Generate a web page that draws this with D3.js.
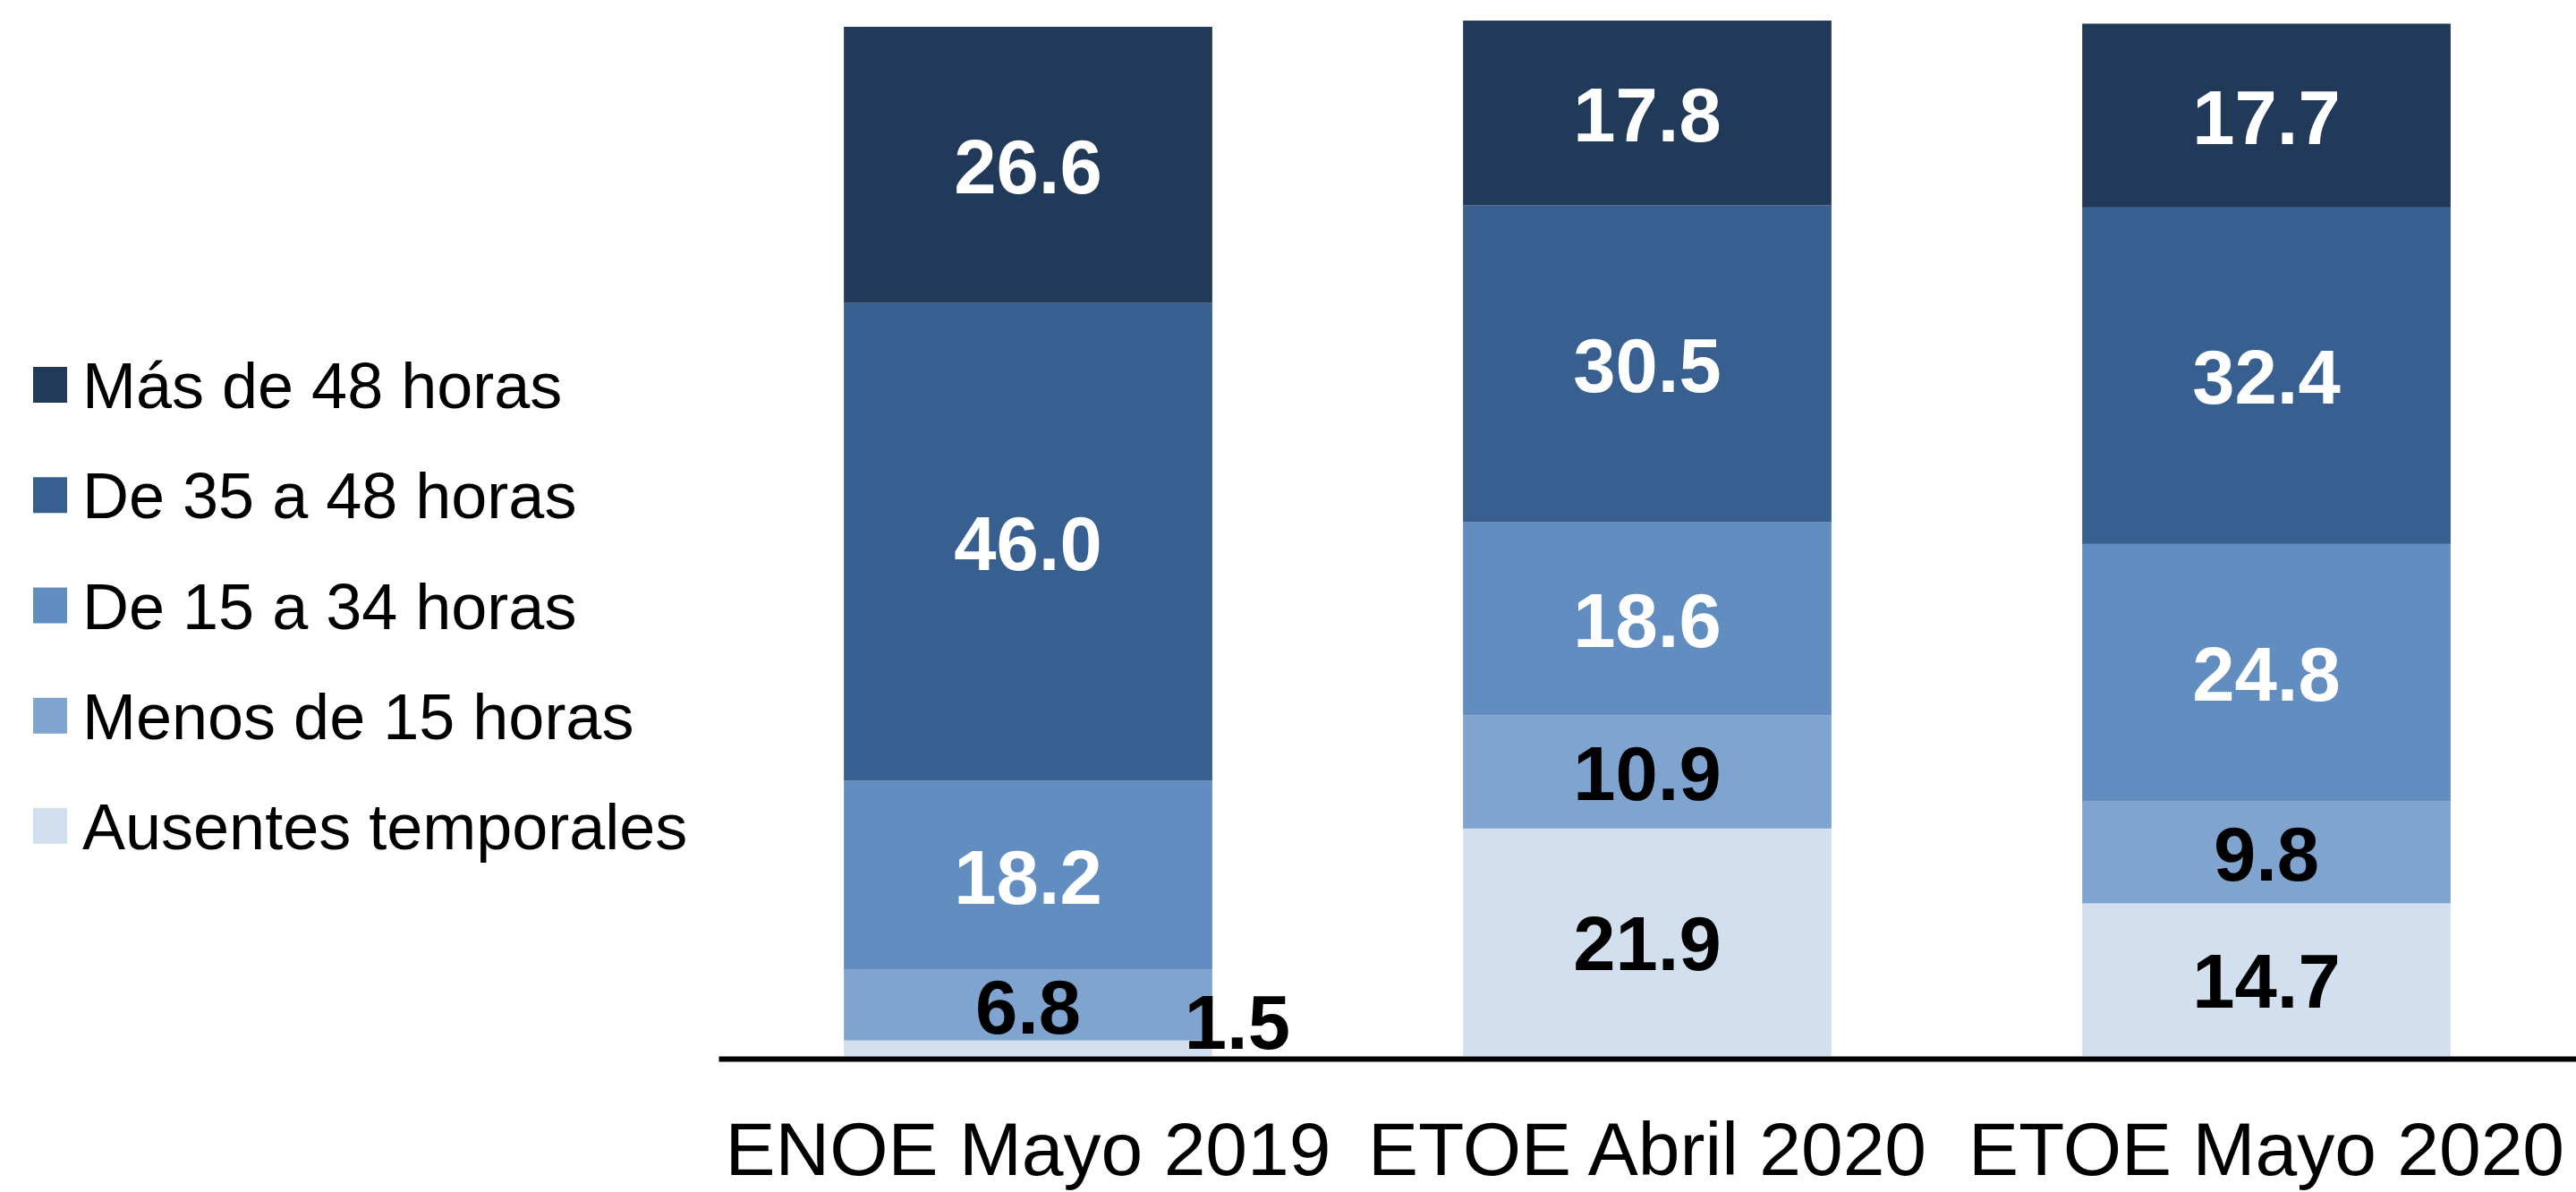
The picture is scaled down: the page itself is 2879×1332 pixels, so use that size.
<!DOCTYPE html>
<html>
<head>
<meta charset="utf-8">
<script src="https://cdn.jsdelivr.net/npm/d3@7"></script>
<style>
  html, body { margin: 0; padding: 0; background: #ffffff; }
  svg { display: block; }
  text { font-family: "Liberation Sans", Arial, sans-serif; }
</style>
</head>
<body>
<svg id="chart" width="2879" height="1332"></svg>
<script>
// ---- Data ----
const categories = ["ENOE Mayo 2019", "ETOE Abril 2020", "ETOE Mayo 2020"];
const seriesNames = ["Más de 48 horas", "De 35 a 48 horas", "De 15 a 34 horas", "Menos de 15 horas", "Ausentes temporales"];
const masDe48 = [26.6, 17.8, 17.7];
const de35a48 = [46.0, 30.5, 32.4];
const de15a34 = [18.2, 18.6, 24.8];
const menosDe15 = [6.8, 10.9, 9.8];
const ausentes = [1.5, 21.9, 14.7];
const seriesColors = ["#223A5A", "#375F8F", "#628DC1", "#7FA4D0", "#D1DFEE"];
const labelColors = ["#ffffff", "#ffffff", "#ffffff", "#000000", "#000000"];

// ---- Build table ----
const seriesValues = [masDe48, de35a48, de15a34, menosDe15, ausentes];
const rows = categories.map((c, i) => {
  const r = { category: c };
  seriesNames.forEach((s, j) => { r[s] = seriesValues[j][i]; });
  return r;
});
// stack from bottom: Ausentes first
const stackKeys = seriesNames.slice().reverse();
const stacked = d3.stack().keys(stackKeys)(rows);

const svg = d3.select("#chart");

const x = d3.scaleBand()
  .domain(categories)
  .range([803, 2879])
  .paddingInner(0.405)
  .paddingOuter(0.2025);

const y = d3.scaleLinear().domain([0, 100]).range([1180, 19.5]);

const color = d3.scaleOrdinal().domain(seriesNames).range(seriesColors);
const lblColor = d3.scaleOrdinal().domain(seriesNames).range(labelColors);

// ---- Bars ----
const layers = svg.append("g").selectAll("g")
  .data(stacked)
  .join("g")
  .attr("fill", d => color(d.key));

layers.selectAll("rect")
  .data(d => d.map(p => ({ p, key: d.key })))
  .join("rect")
  .attr("x", d => x(d.p.data.category))
  .attr("width", x.bandwidth())
  .attr("y", d => y(d.p[1]))
  .attr("height", d => y(d.p[0]) - y(d.p[1]));

// ---- Value labels ----
const labelG = svg.append("g");
stacked.forEach(layer => {
  layer.forEach(p => {
    const v = p[1] - p[0];
    let cx = x(p.data.category) + x.bandwidth() / 2;
    let cy = (y(p[0]) + y(p[1])) / 2;
    // small segment label moved outside the bar (as in the original)
    if (v < 3) { cx = x(p.data.category) + x.bandwidth() + 28; cy = y(p[1]) - 22; }
    labelG.append("text")
      .attr("x", cx)
      .attr("y", cy)
      .attr("dy", "0.37em")
      .attr("text-anchor", "middle")
      .attr("font-size", 85)
      .attr("font-weight", "bold")
      .attr("fill", lblColor(layer.key))
      .text(d3.format(".1f")(v));
  });
});

// ---- X axis ----
const xAxis = svg.append("g")
  .attr("transform", "translate(0,1183)")
  .call(d3.axisBottom(x).tickSizeInner(0).tickSizeOuter(0).tickPadding(70));
xAxis.select(".domain").attr("stroke", "#000").attr("stroke-width", 6);
xAxis.selectAll(".tick text")
  .attr("font-size", 84)
  .attr("fill", "#000")
  .style("font-family", "'Liberation Sans', Arial, sans-serif");

// ---- Legend ----
const legend = svg.append("g");
seriesNames.forEach((s, i) => {
  const base = 456 + i * 123.25;
  legend.append("rect")
    .attr("x", 37).attr("y", base - 46)
    .attr("width", 38).attr("height", 40)
    .attr("fill", color(s));
  legend.append("text")
    .attr("x", 92).attr("y", base)
    .attr("font-size", 72)
    .attr("fill", "#000")
    .text(s);
});
</script>
</body>
</html>
